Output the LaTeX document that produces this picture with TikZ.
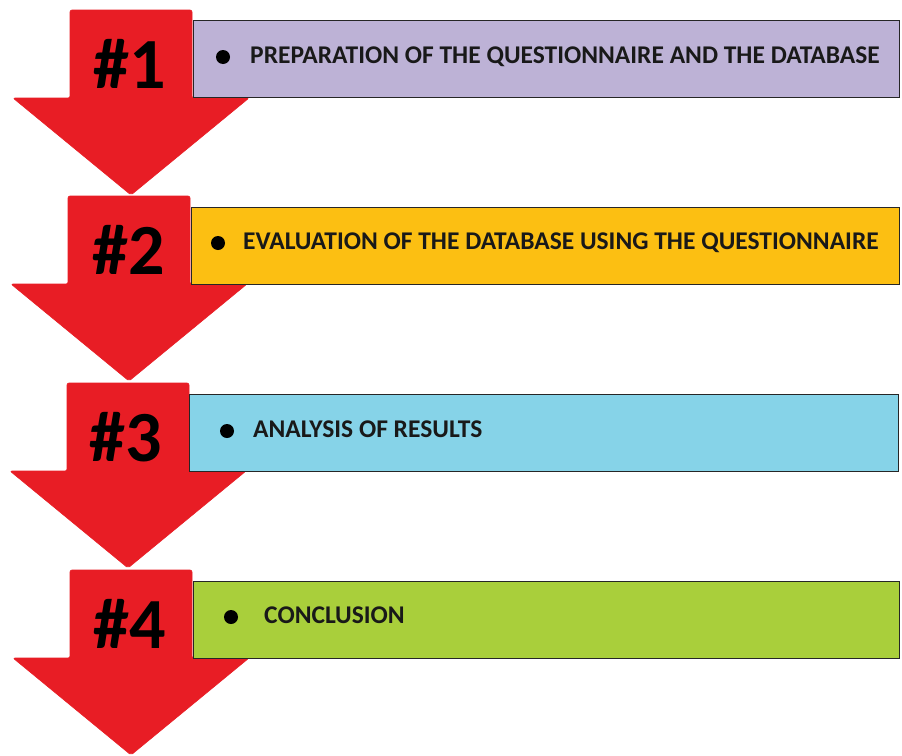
\documentclass[tikz,border=0pt]{standalone}
\usepackage{fontspec}
\setmainfont{Carlito}
\definecolor{arrowred}{HTML}{E81D25}
\definecolor{steplav}{HTML}{BDB2D6}
\definecolor{stepgold}{HTML}{FCBF12}
\definecolor{stepsky}{HTML}{86D3E8}
\definecolor{steplime}{HTML}{A9CF3B}
\begin{document}
\begin{tikzpicture}[x=1pt,y=-1pt,
  redarrow/.style={fill=arrowred,draw=arrowred,line width=0.6pt,rounded corners=2pt},
  stepbox/.style={draw=black!85,line width=1.3pt,anchor=north west,inner sep=0pt,minimum height=77pt},
  stepnum/.style={font=\fontsize{72}{72}\selectfont\bfseries,text=black,inner sep=0pt},
  steptext/.style={font=\fontsize{25.5}{25.5}\selectfont\bfseries,text=black!90,anchor=west,inner sep=0pt},
  dot/.style={circle,fill=black,inner sep=0pt,minimum size=14pt}]
\useasboundingbox (0,0) rectangle (902,755);
% downward block arrows, one per step
\foreach \t/\c in {10/131,196/129,383/128,570/131}{
  \draw[redarrow] (\c-61,\t) -- (\c+61,\t) -- (\c+61,\t+88) -- (\c+118,\t+88)
    -- (\c,\t+185) -- (\c-118,\t+88) -- (\c-61,\t+88) -- cycle;
}
% step labels on the arrow shafts
\node[stepnum] (n1) at (130,64) {\#1};
\node[stepnum] (n2) at (129,250) {\#2};
\node[stepnum] (n3) at (126,437) {\#3};
\node[stepnum] (n4) at (130,624) {\#4};
% coloured step boxes
\node[stepbox,fill=steplav,minimum width=706pt] (b1) at (193,20) {};
\node[stepbox,fill=stepgold,minimum width=708pt] (b2) at (191,207) {};
\node[stepbox,fill=stepsky,minimum width=709pt] (b3) at (189,394) {};
\node[stepbox,fill=steplime,minimum width=706pt] (b4) at (193,581) {};
% bullets and captions
\node[dot] (d1) at (223,57) {};
\node[steptext] (t1) at (250,57) {PREPARATION OF THE QUESTIONNAIRE AND THE DATABASE};
\node[dot] (d2) at (218,243) {};
\node[steptext] (t2) at (243,243) {EVALUATION OF THE DATABASE USING THE QUESTIONNAIRE};
\node[dot] (d3) at (227,431) {};
\node[steptext] (t3) at (253,429) {ANALYSIS OF RESULTS};
\node[dot] (d4) at (231,617) {};
\node[steptext] (t4) at (264,615) {CONCLUSION};
\end{tikzpicture}
\end{document}
